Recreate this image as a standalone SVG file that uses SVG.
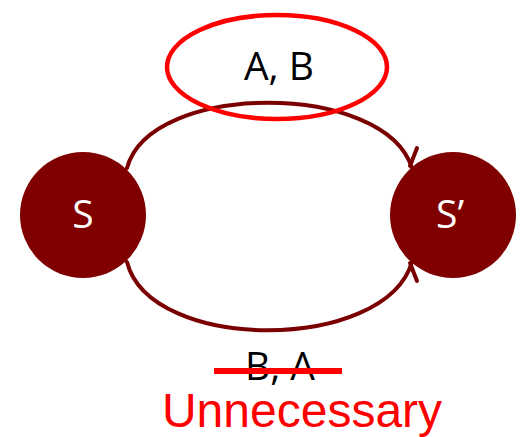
<svg xmlns="http://www.w3.org/2000/svg" width="524" height="437" viewBox="0 0 524 437">
<style>
.node{fill:#800000}
.nl{font-family:"Open Sans","Liberation Sans",sans-serif;font-size:39px;fill:#fff;text-anchor:middle}
.edge{fill:none;stroke:#7a0000;stroke-width:4;stroke-linecap:round}
.lbl{font-family:"Open Sans","Liberation Sans",sans-serif;font-size:39px;fill:#000;text-anchor:middle}
</style>
<rect width="524" height="437" fill="#fff"/>
<g id="connectors">
<path class="edge" d="M127,168 C150,81 385,81 412,168"/>
<path class="edge" d="M417,148 L410,166"/>
<path class="edge" d="M127,262 C150,353 385,353 412,262"/>
<path class="edge" d="M417,281 L410,263"/>
</g>
<g id="S"><circle class="node" cx="83" cy="215" r="63"/><text class="nl" x="83" y="228">S</text></g>
<g id="S2"><circle class="node" cx="453" cy="215" r="63"/><text class="nl" x="450" y="228">S’</text></g>
<g id="labelAB">
<ellipse cx="277" cy="67" rx="110" ry="52" fill="none" stroke="#ff0000" stroke-width="4.5"/>
<text class="lbl" x="279" y="80">A, B</text>
</g>
<g id="labelBA">
<text class="lbl" x="280" y="380">B, A</text>
<line x1="214" y1="371" x2="342" y2="371" stroke="#ff0000" stroke-width="6"/>
<text x="302" y="427" font-family="Liberation Sans, Arial, sans-serif" font-size="48" fill="#ff0000" text-anchor="middle">Unnecessary</text>
</g>
</svg>
